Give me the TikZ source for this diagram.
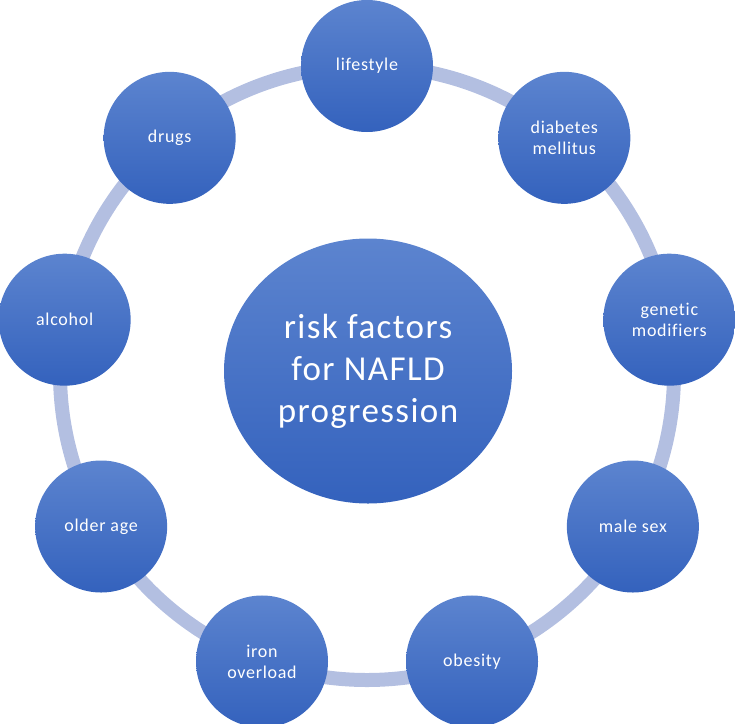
\documentclass[tikz,border=0pt]{standalone}
\usepackage{fontspec}
\setmainfont{Carlito}
\newfontfamily\spaced[LetterSpace=4,Ligatures={NoCommon,NoContextual}]{Carlito}
\usetikzlibrary{shapes.geometric,calc}
\definecolor{ringc}{HTML}{B3BFE1}
\definecolor{topc}{HTML}{5C84CF}
\definecolor{botc}{HTML}{3462BD}
\tikzset{
  ringline/.style={draw=ringc, line width=14pt},
  factor/.style={circle, minimum size=132pt, inner sep=0pt, top color=topc, bottom color=botc,
    text=white, align=center, font=\spaced\fontsize{18}{21}\selectfont},
  hub/.style={ellipse, minimum width=288pt, minimum height=265pt, inner sep=0pt, top color=topc, bottom color=botc,
    text=white, align=center, font=\spaced\fontsize{35}{42}\selectfont}
}
\begin{document}
\begin{tikzpicture}[x=1pt,y=-1pt]
\useasboundingbox (0,0) rectangle (735,723);
\coordinate (c) at (367,373);
\draw[ringline] (c) circle[radius=307pt];
\node[hub] (hub) at (368,371) {risk factors\\for NAFLD\\progression};
\node[factor] (life) at ($(c)+(90:307pt)$) {lifestyle};
\node[factor] (diab) at ($(c)+(50:307pt)$) {diabetes\\mellitus};
\node[factor] (gene) at ($(c)+(10:307pt)$) {genetic\\modifiers};
\node[factor] (male) at ($(c)+(-30:307pt)$) {male sex};
\node[factor] (obes) at ($(c)+(-70:307pt)$) {obesity};
\node[factor] (iron) at ($(c)+(-110:307pt)$) {iron\\overload};
\node[factor] (older) at ($(c)+(-150:307pt)$) {older age};
\node[factor] (alco) at ($(c)+(170:307pt)$) {alcohol};
\node[factor] (drug) at ($(c)+(130:307pt)$) {drugs};
\end{tikzpicture}
\end{document}
